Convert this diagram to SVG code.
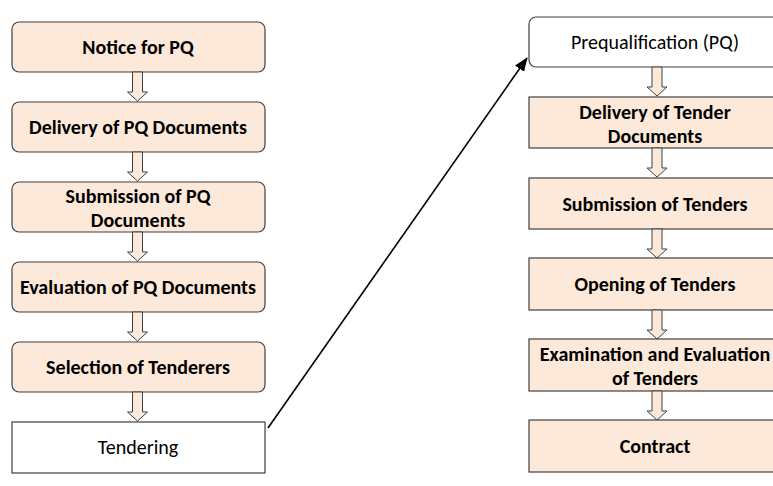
<svg xmlns="http://www.w3.org/2000/svg" width="773" height="486" viewBox="0 0 773 486">
  <defs>
    <marker id="arrowhead" viewBox="0 0 14 11" refX="13" refY="5.5" markerWidth="14" markerHeight="11" markerUnits="userSpaceOnUse" orient="auto">
      <path d="M0,0 L14,5.5 L0,11 z" fill="#000"/>
    </marker>
    <!-- block arrow pointing down, origin at top centre of the shaft -->
    <path id="blockArrow" d="M-5,0 L5,0 L5,20 L10,20 L0,29 L-10,20 L-5,20 z"/>
  </defs>
  <style>
    .step { fill: #FDE9D9; stroke: #404040; stroke-width: 1.2; }
    .plain { fill: #FFFFFF; stroke: #404040; stroke-width: 1.2; }
    .flow { fill: #FDE9D9; stroke: #404040; stroke-width: 1; }
    .lbl { font-family: Carlito, Lato, "Liberation Sans", sans-serif; font-size: 20px; fill: #000; text-anchor: middle; }
    .b { font-weight: bold; }
  </style>

  <rect width="773" height="486" fill="#FFFFFF"/>

  <!-- Prequalification stages (left column) -->
  <g id="notice-pq">
    <rect class="step" x="12" y="22" width="253" height="50" rx="7"/>
    <text class="lbl b" x="138" y="54">Notice for PQ</text>
  </g>
  <g id="delivery-pq">
    <rect class="step" x="12" y="102" width="253" height="50" rx="7"/>
    <text class="lbl b" x="138" y="134">Delivery of PQ Documents</text>
  </g>
  <g id="submission-pq">
    <rect class="step" x="12" y="182" width="253" height="50" rx="7"/>
    <text class="lbl b" x="138" y="203">Submission of PQ</text>
    <text class="lbl b" x="138" y="227">Documents</text>
  </g>
  <g id="evaluation-pq">
    <rect class="step" x="12" y="262" width="253" height="50" rx="7"/>
    <text class="lbl b" x="138" y="294">Evaluation of PQ Documents</text>
  </g>
  <g id="selection">
    <rect class="step" x="12" y="342" width="253" height="50" rx="7"/>
    <text class="lbl b" x="138" y="374">Selection of Tenderers</text>
  </g>
  <g id="tendering">
    <rect class="plain" x="12" y="422" width="253" height="51"/>
    <text class="lbl" x="138" y="454">Tendering</text>
  </g>

  <!-- Tendering stages (right column) -->
  <g id="prequalification">
    <rect class="plain" x="529" y="17" width="256" height="50" rx="7"/>
    <text class="lbl" x="655" y="49">Prequalification (PQ)</text>
  </g>
  <g id="delivery-tender">
    <rect class="step" x="529" y="97" width="256" height="51"/>
    <text class="lbl b" x="655" y="119">Delivery of Tender</text>
    <text class="lbl b" x="655" y="143">Documents</text>
  </g>
  <g id="submission-tenders">
    <rect class="step" x="529" y="178" width="256" height="51"/>
    <text class="lbl b" x="655" y="211">Submission of Tenders</text>
  </g>
  <g id="opening">
    <rect class="step" x="529" y="258" width="256" height="52"/>
    <text class="lbl b" x="655" y="291">Opening of Tenders</text>
  </g>
  <g id="examination">
    <rect class="step" x="529" y="339" width="256" height="52"/>
    <text class="lbl b" x="655" y="361">Examination and Evaluation</text>
    <text class="lbl b" x="655" y="385">of Tenders</text>
  </g>
  <g id="contract">
    <rect class="step" x="529" y="420" width="256" height="52"/>
    <text class="lbl b" x="655" y="453">Contract</text>
  </g>

  <!-- Connectors -->
  <g id="connectors">
    <use href="#blockArrow" class="flow" x="137.5" y="72"/>
    <use href="#blockArrow" class="flow" x="137.5" y="152"/>
    <use href="#blockArrow" class="flow" x="137.5" y="232"/>
    <use href="#blockArrow" class="flow" x="137.5" y="312"/>
    <use href="#blockArrow" class="flow" x="137.5" y="392"/>

    <use href="#blockArrow" class="flow" x="657" y="67"/>
    <use href="#blockArrow" class="flow" x="657" y="148"/>
    <use href="#blockArrow" class="flow" x="657" y="229"/>
    <use href="#blockArrow" class="flow" x="657" y="310"/>
    <use href="#blockArrow" class="flow" x="657" y="391"/>

    <line x1="268" y1="428" x2="527" y2="58" stroke="#000" stroke-width="1.6" marker-end="url(#arrowhead)"/>
  </g>
</svg>
